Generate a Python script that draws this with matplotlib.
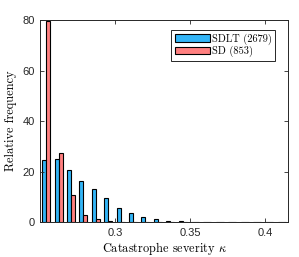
import numpy as np
import matplotlib
matplotlib.use("Agg")
import matplotlib.pyplot as plt

# Data: relative frequency per bin (20 bins from 0.25 to 0.415)
bin_lo, bin_hi, n_bins = 0.25, 0.415, 20
sdlt = [24.6, 25.1, 20.7, 16.2, 13.2, 9.4, 5.7, 3.5, 2.1, 1.2,
        0.6, 0.25, 0.12, 0.08, 0.05, 0.04, 0.03, 0.02, 0.02, 0.01]
sd = [79.8, 27.5, 10.8, 2.7, 1.1, 0.3, 0.1, 0.05, 0.03, 0.0,
      0.0, 0.0, 0.0, 0.0, 0.0, 0.0, 0.0, 0.0, 0.0, 0.0]
labels = ["SDLT (2679)", "SD (853)"]
colors = ["#33B5F7", "#FF8080"]
xticks = [0.3, 0.35, 0.4]
xticklabels = ["0.3", "0.35", "0.4"]
yticks = [0, 20, 40, 60, 80]

plt.rcParams['mathtext.fontset'] = 'cm'
fig = plt.figure(figsize=(2.99, 2.57), dpi=100)
ax = fig.add_axes([0.134, 0.136, 0.829, 0.786])

edges = np.linspace(bin_lo, bin_hi, n_bins + 1)
centers = (edges[:-1] + edges[1:]) / 2
bw = edges[1] - edges[0]
w = 0.32 * bw
ax.bar(centers - w / 2, sdlt, width=w, color=colors[0], edgecolor='black',
       linewidth=0.8, label=labels[0])
ax.bar(centers + w / 2, sd, width=w, color=colors[1], edgecolor='black',
       linewidth=0.8, label=labels[1])

ax.set_xlim(bin_lo, bin_hi)
ax.set_ylim(0, 80)
ax.set_xticks(xticks)
ax.set_xticklabels(xticklabels)
ax.set_yticks(yticks)
ax.tick_params(direction='in', top=True, right=True, length=3, width=0.6,
               labelsize=8, colors='#262626', pad=4)
for lab in ax.get_xticklabels() + ax.get_yticklabels():
    lab.set_fontfamily('Liberation Sans')
for s in ax.spines.values():
    s.set_color('#262626')
    s.set_linewidth(0.7)

ax.set_xlabel(r"Catastrophe severity $\kappa$", fontfamily='cmr10', fontsize=8.9,
              labelpad=2)
ax.set_ylabel("Relative frequency", fontfamily='cmr10', fontsize=8.9, labelpad=4)

leg = ax.legend(loc='upper right', bbox_to_anchor=(0.948, 0.95),
                prop={'family': 'cmr10', 'size': 7.5},
                fancybox=False, edgecolor='#262626', framealpha=1,
                handlelength=3.4, handleheight=0.75, handletextpad=0.2,
                borderpad=0.3, labelspacing=0.15, borderaxespad=0.0)
leg.get_frame().set_linewidth(0.7)

fig.savefig("out.png", dpi=100)
